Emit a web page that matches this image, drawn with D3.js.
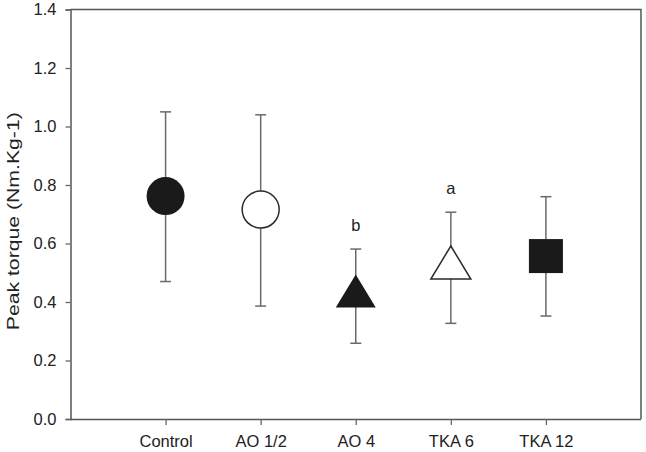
<!DOCTYPE html>
<html><head><meta charset="utf-8">
<script src="https://cdn.jsdelivr.net/npm/d3@7"></script>
<style>body{margin:0;background:#fff}svg{display:block}</style>
</head><body><svg id="c" width="646" height="452"></svg>
<script>
const categories = ["Control", "AO 1/2", "AO 4", "TKA 6", "TKA 12"];
const means = [0.762, 0.716, 0.438, 0.535, 0.557];
const upper = [1.05, 1.04, 0.581, 0.707, 0.760];
const lower = [0.47, 0.386, 0.259, 0.327, 0.352];
const markers = ["circleFilled", "circleOpen", "triangleFilled", "triangleOpen", "squareFilled"];
const sigLetters = ["", "", "b", "a", ""];
const yTicks = [0, 0.2, 0.4, 0.6, 0.8, 1.0, 1.2, 1.4];

const svg = d3.select("#c");
const L = 70.5, R = 641, T = 9.5, B = 419;
const x = d3.scaleLinear().domain([0, 6]).range([L, R]);
const y = d3.scaleLinear().domain([0, 1.4]).range([B, T]);
const font = "'Liberation Sans', Arial, sans-serif";

// frame
svg.append("path").attr("d", `M${L},${T}H${R}V${B}`).attr("fill","none").attr("stroke","#555").attr("stroke-width",1.5);

const yAxis = svg.append("g").attr("transform", `translate(${L},0)`)
  .call(d3.axisLeft(y).tickValues(yTicks).tickFormat(d3.format(".1f")).tickSizeOuter(0).tickSize(5).tickPadding(9));
const xAxis = svg.append("g").attr("transform", `translate(0,${B})`)
  .call(d3.axisBottom(x).tickValues(d3.range(1, 6)).tickFormat(i => categories[i-1]).tickSizeOuter(0).tickSize(6).tickPadding(10));
[yAxis, xAxis].forEach(g => {
  g.select(".domain").attr("stroke","#555").attr("stroke-width",1.5);
  g.selectAll(".tick line").attr("stroke","#666").attr("stroke-width",1.3);
  g.selectAll("text").attr("font-family", font).attr("font-size", 16.5).attr("fill","#222");
});
xAxis.select(".domain").attr("d", `M${L},0.5H${R}`);

svg.append("text").attr("transform", `translate(19,${(T+B)/2 + 7}) rotate(-90)`)
  .attr("text-anchor","middle").attr("font-family",font).attr("font-size",16.5).attr("fill","#222")
  .attr("textLength", 218).attr("lengthAdjust","spacingAndGlyphs")
  .text("Peak torque (Nm.Kg-1)");

const data = categories.map((c,i)=>({c, i, m: means[i], u: upper[i], l: lower[i], mk: markers[i], s: sigLetters[i]}));
const g = svg.append("g");
const cap = 5.5;
data.forEach(d => {
  const cx = x(d.i+1);
  g.append("line").attr("x1",cx).attr("x2",cx).attr("y1",y(d.u)).attr("y2",y(d.l)).attr("stroke","#6a6a6a").attr("stroke-width",1.5);
  [d.u, d.l].forEach(v => g.append("line").attr("x1",cx-cap).attr("x2",cx+cap).attr("y1",y(v)).attr("y2",y(v)).attr("stroke","#6a6a6a").attr("stroke-width",1.5));
  const cy = y(d.m);
  if (d.mk === "circleFilled" || d.mk === "circleOpen") {
    const open = d.mk === "circleOpen";
    g.append("circle").attr("cx",cx).attr("cy",cy).attr("r", open ? 18.5 : 19)
      .attr("fill", open ? "#fff" : "#1a1a1a").attr("stroke", "#2a2a2a").attr("stroke-width", open ? 1.5 : 0);
  } else if (d.mk.startsWith("triangle")) {
    const open = d.mk === "triangleOpen";
    const hw = 20, hh = 16.5;
    g.append("path").attr("d", `M${cx},${cy-hh}L${cx+hw},${cy+hh}L${cx-hw},${cy+hh}Z`)
      .attr("fill", open ? "#fff" : "#1a1a1a").attr("stroke","#2a2a2a").attr("stroke-width", open ? 1.5 : 0);
  } else {
    g.append("rect").attr("x",cx-17).attr("y",cy-17).attr("width",34).attr("height",34).attr("fill","#1a1a1a");
  }
  if (d.s) {
    g.append("text").attr("x",cx).attr("y",y(d.u)-18).attr("text-anchor","middle")
      .attr("font-family",font).attr("font-size",16.5).attr("fill","#222").text(d.s);
  }
});
</script></body></html>
